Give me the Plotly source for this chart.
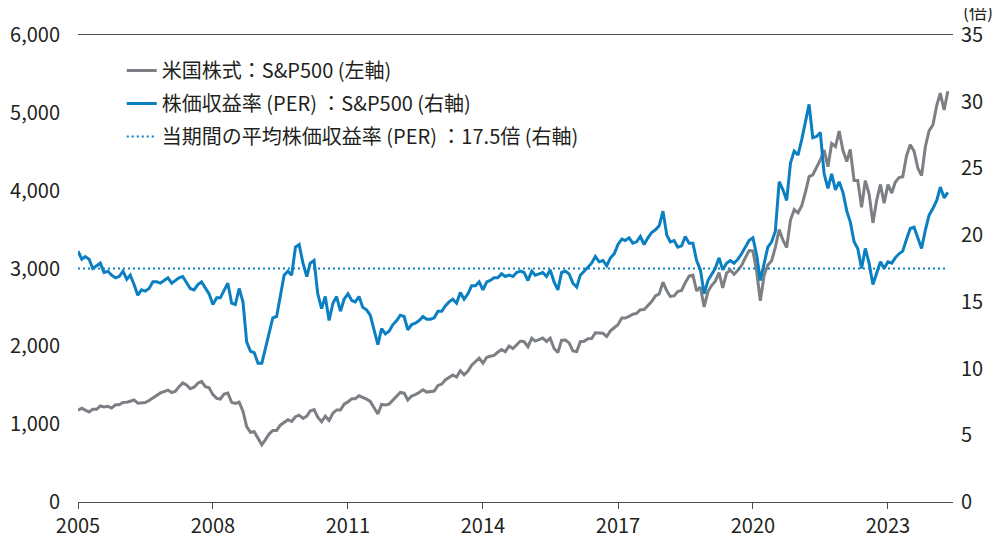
"""S&P500 index level and PER, monthly, Jan 2005 to May 2024.

Gray line = index level (left axis), blue line = PER (right axis),
dotted line = average PER over the whole period (17.5x).
"""

import pandas as pd
import plotly.graph_objects as go

FONT_FAMILY = "Noto Sans CJK JP"
TEXT_COLOR = "#231f20"
AXIS_COLOR = "#4d4d4f"
GRAY = "#7c8084"
BLUE = "#0a7fc2"

# monthly, first-of-month labels
MONTHS = pd.date_range("2005-01-01", "2024-05-01", freq="MS")

# S&P500 month-end close
SP500 = [
    1181, 1204, 1181, 1157, 1192, 1191, 1234, 1220, 1229, 1207, 1249, 1248,  # 2005
    1280, 1281, 1295, 1311, 1270, 1270, 1277, 1304, 1336, 1378, 1401, 1418,  # 2006
    1438, 1407, 1421, 1482, 1531, 1503, 1455, 1474, 1527, 1549, 1481, 1468,  # 2007
    1379, 1331, 1323, 1386, 1400, 1280, 1267, 1283, 1166, 969, 896, 903,  # 2008
    826, 735, 798, 873, 919, 919, 987, 1021, 1057, 1036, 1096, 1115,  # 2009
    1074, 1104, 1169, 1187, 1089, 1031, 1102, 1049, 1141, 1183, 1181, 1258,  # 2010
    1286, 1327, 1326, 1364, 1345, 1321, 1292, 1219, 1131, 1253, 1247, 1258,  # 2011
    1312, 1366, 1408, 1398, 1310, 1362, 1379, 1407, 1441, 1412, 1416, 1426,  # 2012
    1498, 1515, 1569, 1598, 1631, 1606, 1686, 1633, 1682, 1757, 1806, 1848,  # 2013
    1783, 1859, 1872, 1884, 1924, 1960, 1931, 2003, 1972, 2018, 2068, 2059,  # 2014
    1995, 2105, 2068, 2086, 2107, 2063, 2104, 1972, 1920, 2079, 2080, 2044,  # 2015
    1940, 1932, 2060, 2065, 2097, 2099, 2174, 2171, 2168, 2126, 2199, 2239,  # 2016
    2279, 2364, 2363, 2384, 2412, 2423, 2470, 2472, 2519, 2575, 2648, 2674,  # 2017
    2824, 2714, 2641, 2648, 2705, 2718, 2816, 2902, 2914, 2712, 2760, 2507,  # 2018
    2704, 2784, 2834, 2946, 2752, 2942, 2980, 2926, 2977, 3038, 3141, 3231,  # 2019
    3226, 2954, 2585, 2912, 3044, 3100, 3271, 3500, 3363, 3270, 3622, 3756,  # 2020
    3714, 3811, 3973, 4181, 4204, 4298, 4395, 4523, 4308, 4605, 4567, 4766,  # 2021
    4516, 4374, 4530, 4132, 4132, 3785, 4130, 3955, 3586, 3872, 4080, 3840,  # 2022
    4077, 3970, 4109, 4169, 4180, 4450, 4589, 4508, 4288, 4194, 4568, 4770,  # 2023
    4846, 5096, 5254, 5036, 5278,  # 2024
]

# price earnings ratio (x)
PER = [
    18.8, 18.2, 18.4, 18.2, 17.5, 17.7, 17.9, 17.2, 17.3, 17.0, 16.8, 16.9,  # 2005
    17.3, 16.7, 17.0, 16.3, 15.5, 15.9, 15.8, 16.0, 16.5, 16.5, 16.4, 16.6,  # 2006
    16.8, 16.4, 16.6, 16.8, 16.9, 16.4, 16.0, 15.9, 16.3, 16.5, 16.0, 15.6,  # 2007
    14.8, 15.3, 15.3, 15.9, 16.4, 14.9, 14.8, 16.0, 15.0, 12.0, 11.3, 11.2,  # 2008
    10.4, 10.4, 11.5, 12.6, 13.8, 13.9, 15.4, 17.0, 17.3, 17.0, 19.1, 19.3,  # 2009
    17.9, 16.9, 17.9, 18.1, 15.6, 14.5, 15.4, 13.6, 14.9, 15.4, 14.3, 15.2,  # 2010
    15.6, 15.1, 15.0, 15.4, 14.6, 14.4, 14.0, 13.0, 11.8, 13.0, 12.6, 12.8,  # 2011
    13.3, 13.6, 14.0, 13.9, 12.9, 13.3, 13.4, 13.6, 13.9, 13.7, 13.7, 13.8,  # 2012
    14.3, 14.3, 14.7, 15.0, 15.2, 14.9, 15.7, 15.2, 15.6, 16.2, 16.2, 16.5,  # 2013
    15.9, 16.5, 16.6, 16.8, 16.8, 17.1, 16.9, 17.0, 16.9, 17.2, 17.3, 17.2,  # 2014
    16.6, 17.3, 17.0, 17.1, 17.2, 16.9, 17.4, 16.5, 15.9, 17.2, 17.3, 17.1,  # 2015
    16.4, 16.1, 17.0, 17.3, 17.6, 17.9, 18.4, 18.0, 18.1, 17.7, 18.3, 18.6,  # 2016
    19.3, 19.7, 19.6, 19.8, 19.4, 19.5, 19.9, 19.3, 19.8, 20.2, 20.4, 20.7,  # 2017
    21.8, 20.0, 19.5, 19.6, 19.1, 19.2, 19.9, 19.4, 19.4, 18.1, 17.4, 15.6,  # 2018
    16.6, 17.1, 17.5, 18.3, 17.4, 17.9, 18.1, 17.9, 18.2, 18.6, 19.1, 19.6,  # 2019
    19.8, 18.5, 16.6, 17.8, 19.1, 19.5, 20.3, 24.0, 23.4, 22.6, 25.4, 26.3,  # 2020
    26.0, 27.2, 28.5, 29.8, 27.3, 27.4, 27.7, 24.6, 23.5, 24.6, 23.4, 24.0,  # 2021
    23.2, 21.8, 21.0, 19.5, 19.0, 17.5, 19.0, 17.9, 16.3, 17.1, 18.0, 17.5,  # 2022
    18.0, 17.9, 18.3, 18.6, 18.8, 19.7, 20.5, 20.6, 19.7, 19.0, 20.4, 21.5,  # 2023
    22.0, 22.6, 23.6, 22.8, 23.2,  # 2024
]

AVG_PER = 17.5

LABEL_SP500 = "米国株式：S&P500 (左軸)"
LABEL_PER = "株価収益率 (PER) ：S&P500 (右軸)"
LABEL_AVG = "当期間の平均株価収益率 (PER) ：17.5倍 (右軸)"


def create_chart() -> go.Figure:
    fig = go.Figure()

    fig.add_trace(
        go.Scatter(
            x=MONTHS,
            y=SP500,
            name=LABEL_SP500,
            mode="lines",
            line=dict(color=GRAY, width=3),
            legendgroup="a",
        )
    )
    fig.add_trace(
        go.Scatter(
            x=MONTHS,
            y=PER,
            name=LABEL_PER,
            mode="lines",
            line=dict(color=BLUE, width=3),
            yaxis="y2",
            legendgroup="b",
        )
    )
    # average PER, spans the whole period
    fig.add_trace(
        go.Scatter(
            x=[MONTHS[0], MONTHS[-1]],
            y=[AVG_PER, AVG_PER],
            name=LABEL_AVG,
            mode="lines",
            line=dict(color=BLUE, width=2, dash="2px,3px"),
            yaxis="y2",
            legendgroup="c",
        )
    )

    tick_font = dict(family=FONT_FAMILY, size=20, color=TEXT_COLOR)

    # page body has an 8px margin, so the figure is a bit smaller than the window
    fig.update_layout(
        width=992,
        height=530,
        margin=dict(l=70, r=47, t=27, b=36),
        paper_bgcolor="white",
        plot_bgcolor="white",
        font=dict(family=FONT_FAMILY, color=TEXT_COLOR),
        showlegend=True,
        legend=dict(
            x=0.05,
            y=0.966,
            xanchor="left",
            yanchor="top",
            font=dict(family=FONT_FAMILY, size=20, color=TEXT_COLOR),
            bgcolor="rgba(0,0,0,0)",
            tracegroupgap=4,
        ),
        xaxis=dict(
            type="date",
            range=["2005-01-01", "2024-06-12"],
            tick0="2005-01-01",
            dtick="M36",
            tickformat="%Y",
            ticks="outside",
            ticklen=6,
            tickcolor=AXIS_COLOR,
            showline=True,
            linecolor=AXIS_COLOR,
            linewidth=1,
            mirror=True,
            showgrid=False,
            zeroline=False,
            automargin=False,
            tickfont=tick_font,
        ),
        yaxis=dict(
            range=[0, 6000],
            dtick=1000,
            tickformat=",",
            showgrid=False,
            zeroline=False,
            showline=False,
            automargin=False,
            ticklabelstandoff=17,
            tickfont=tick_font,
        ),
        yaxis2=dict(
            range=[0, 35],
            dtick=5,
            overlaying="y",
            side="right",
            showgrid=False,
            zeroline=False,
            showline=False,
            automargin=False,
            ticklabelstandoff=7,
            tickfont=tick_font,
        ),
    )

    fig.add_annotation(
        text="(倍)",
        xref="paper",
        yref="paper",
        x=1,
        y=1,
        xanchor="right",
        yanchor="middle",
        xshift=42,
        yshift=24,
        showarrow=False,
        font=dict(family=FONT_FAMILY, size=18, color=TEXT_COLOR),
    )

    return fig


if __name__ == "__main__":
    fig = create_chart()
    fig.write_html("out.html")
